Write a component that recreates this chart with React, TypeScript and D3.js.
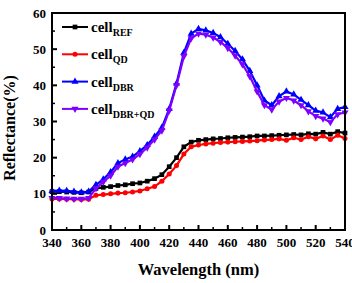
import React from "react";
import * as d3 from "d3";

const wavelengths = d3.range(340, 541, 5);

const cellRef = [10.6, 10.6, 10.5, 10.4, 10.3, 10.5, 11.5, 11.8, 12.0, 12.3, 12.5, 12.8, 13.0, 13.5, 14.2, 15.3, 17.5, 20.0, 23.0, 24.3, 24.8, 25.0, 25.2, 25.3, 25.5, 25.6, 25.7, 25.8, 26.0, 26.0, 26.1, 26.2, 26.3, 26.4, 26.3, 26.6, 26.5, 27.0, 26.5, 27.2, 26.8];
const cellQD = [8.6, 8.6, 8.5, 8.5, 8.4, 8.5, 9.6, 9.8, 10.0, 10.2, 10.3, 10.5, 10.8, 11.4, 12.0, 13.5, 15.5, 17.8, 21.0, 23.0, 23.5, 23.8, 24.0, 24.2, 24.3, 24.4, 24.5, 24.6, 24.7, 24.9, 25.0, 25.2, 24.8, 25.5, 25.0, 25.8, 25.2, 26.0, 25.0, 26.2, 25.3];
const cellDBR = [10.8, 10.9, 10.8, 10.6, 10.4, 10.6, 12.5, 14.0, 16.0, 18.5, 19.5, 20.3, 21.8, 23.5, 25.8, 28.3, 33.5, 40.5, 49.0, 54.3, 55.6, 55.2, 54.5, 53.3, 51.5, 49.5, 47.2, 44.0, 40.0, 35.8, 34.5, 37.0, 38.3, 37.5, 36.0, 34.5, 33.0, 32.5, 31.2, 33.5, 34.0];
const cellDBRQD = [8.8, 8.8, 8.7, 8.6, 8.6, 8.8, 11.5, 13.3, 15.0, 17.5, 18.5, 19.5, 21.0, 22.8, 25.0, 27.5, 33.0, 40.0, 48.0, 53.0, 54.3, 54.0, 53.2, 52.0, 50.3, 48.2, 45.8, 42.5, 38.3, 34.5, 33.3, 35.5, 36.5, 35.8, 34.5, 32.8, 31.5, 30.8, 29.8, 32.0, 32.5];

const xTicks = [340, 360, 380, 400, 420, 440, 460, 480, 500, 520, 540];
const yTicks = [0, 10, 20, 30, 40, 50, 60];

const series = [
  { name: "REF", values: cellRef, color: "#000000", marker: "square" },
  { name: "QD", values: cellQD, color: "#ff0000", marker: "circle" },
  { name: "DBR", values: cellDBR, color: "#0000ff", marker: "triangle" },
  { name: "DBR+QD", values: cellDBRQD, color: "#8000ff", marker: "triangleDown" },
];

const W = 352;
const H = 283;
const left = 52, right = 345, top = 13, bottom = 230;
const txt = { fontFamily: "'Liberation Serif', Tinos, 'Times New Roman', 'DejaVu Serif', serif", fontWeight: "bold" as const };

const symbolFor = (m: string) =>
  m === "square" ? d3.symbolSquare : m === "circle" ? d3.symbolCircle : d3.symbolTriangle;

const Marker = ({ x, y, type, color }: { x: number; y: number; type: string; color: string }) => {
  const path = d3.symbol().type(symbolFor(type)).size(type === "circle" ? 20 : 22)();
  const rot = type === "triangleDown" ? 180 : 0;
  return <path d={path || ""} transform={`translate(${x},${y}) rotate(${rot})`} fill={color} stroke="none" />;
};

export default function App() {
  const x = d3.scaleLinear().domain([340, 540]).range([left, right]);
  const y = d3.scaleLinear().domain([0, 60]).range([bottom, top]);
  const lineGen = d3
    .line<number>()
    .x((_, i) => x(wavelengths[i]))
    .y((d) => y(d));

  const xMinor = d3.range(350, 540, 20);
  const yMinor = d3.range(5, 60, 10);

  return (
    <svg width={W} height={H} style={{ position: "absolute", left: 0, top: 0 }}>
      <rect width={W} height={H} fill="#fff" />
      {series.map((s) => (
        <g key={s.name}>
          <path d={lineGen(s.values) || ""} fill="none" stroke={s.color} strokeWidth={2.2} />
          {s.values.map((v, i) => (
            <Marker key={i} x={x(wavelengths[i])} y={y(v)} type={s.marker} color={s.color} />
          ))}
        </g>
      ))}

      {/* frame */}
      <rect x={left} y={top} width={right - left} height={bottom - top} fill="none" stroke="#000" strokeWidth={2} />

      {/* x ticks */}
      {xTicks.map((t) => (
        <g key={t}>
          <line x1={x(t)} x2={x(t)} y1={bottom} y2={bottom - 5} stroke="#000" strokeWidth={2} />
          <text x={x(t)} y={bottom + 17} textAnchor="middle" fontSize={13} style={txt}>{t}</text>
        </g>
      ))}
      {xMinor.map((t) => (
        <line key={t} x1={x(t)} x2={x(t)} y1={bottom} y2={bottom - 3} stroke="#000" strokeWidth={1.5} />
      ))}

      {/* y ticks */}
      {yTicks.map((t) => (
        <g key={t}>
          <line x1={left} x2={left + 5} y1={y(t)} y2={y(t)} stroke="#000" strokeWidth={2} />
          <text x={left - 6} y={y(t) + 4.5} textAnchor="end" fontSize={13} style={txt}>{t}</text>
        </g>
      ))}
      {yMinor.map((t) => (
        <line key={t} x1={left} x2={left + 3} y1={y(t)} y2={y(t)} stroke="#000" strokeWidth={1.5} />
      ))}

      <text x={(left + right) / 2} y={275} textAnchor="middle" fontSize={16.5} style={txt}>Wavelength (nm)</text>
      <text transform="translate(15,128) rotate(-90)" textAnchor="middle" fontSize={16} style={txt}>Reflectance(%)</text>

      {/* legend */}
      {series.map((s, i) => {
        const ly = 27 + i * 27.3;
        return (
          <g key={s.name}>
            <line x1={62} x2={88} y1={ly} y2={ly} stroke={s.color} strokeWidth={2} />
            <Marker x={75} y={ly} type={s.marker} color={s.color} />
            <text x={91} y={ly + 5} fontSize={15} style={txt}>
              cell
              <tspan fontSize={10} dy={4}>{s.name}</tspan>
            </text>
          </g>
        );
      })}
    </svg>
  );
}
